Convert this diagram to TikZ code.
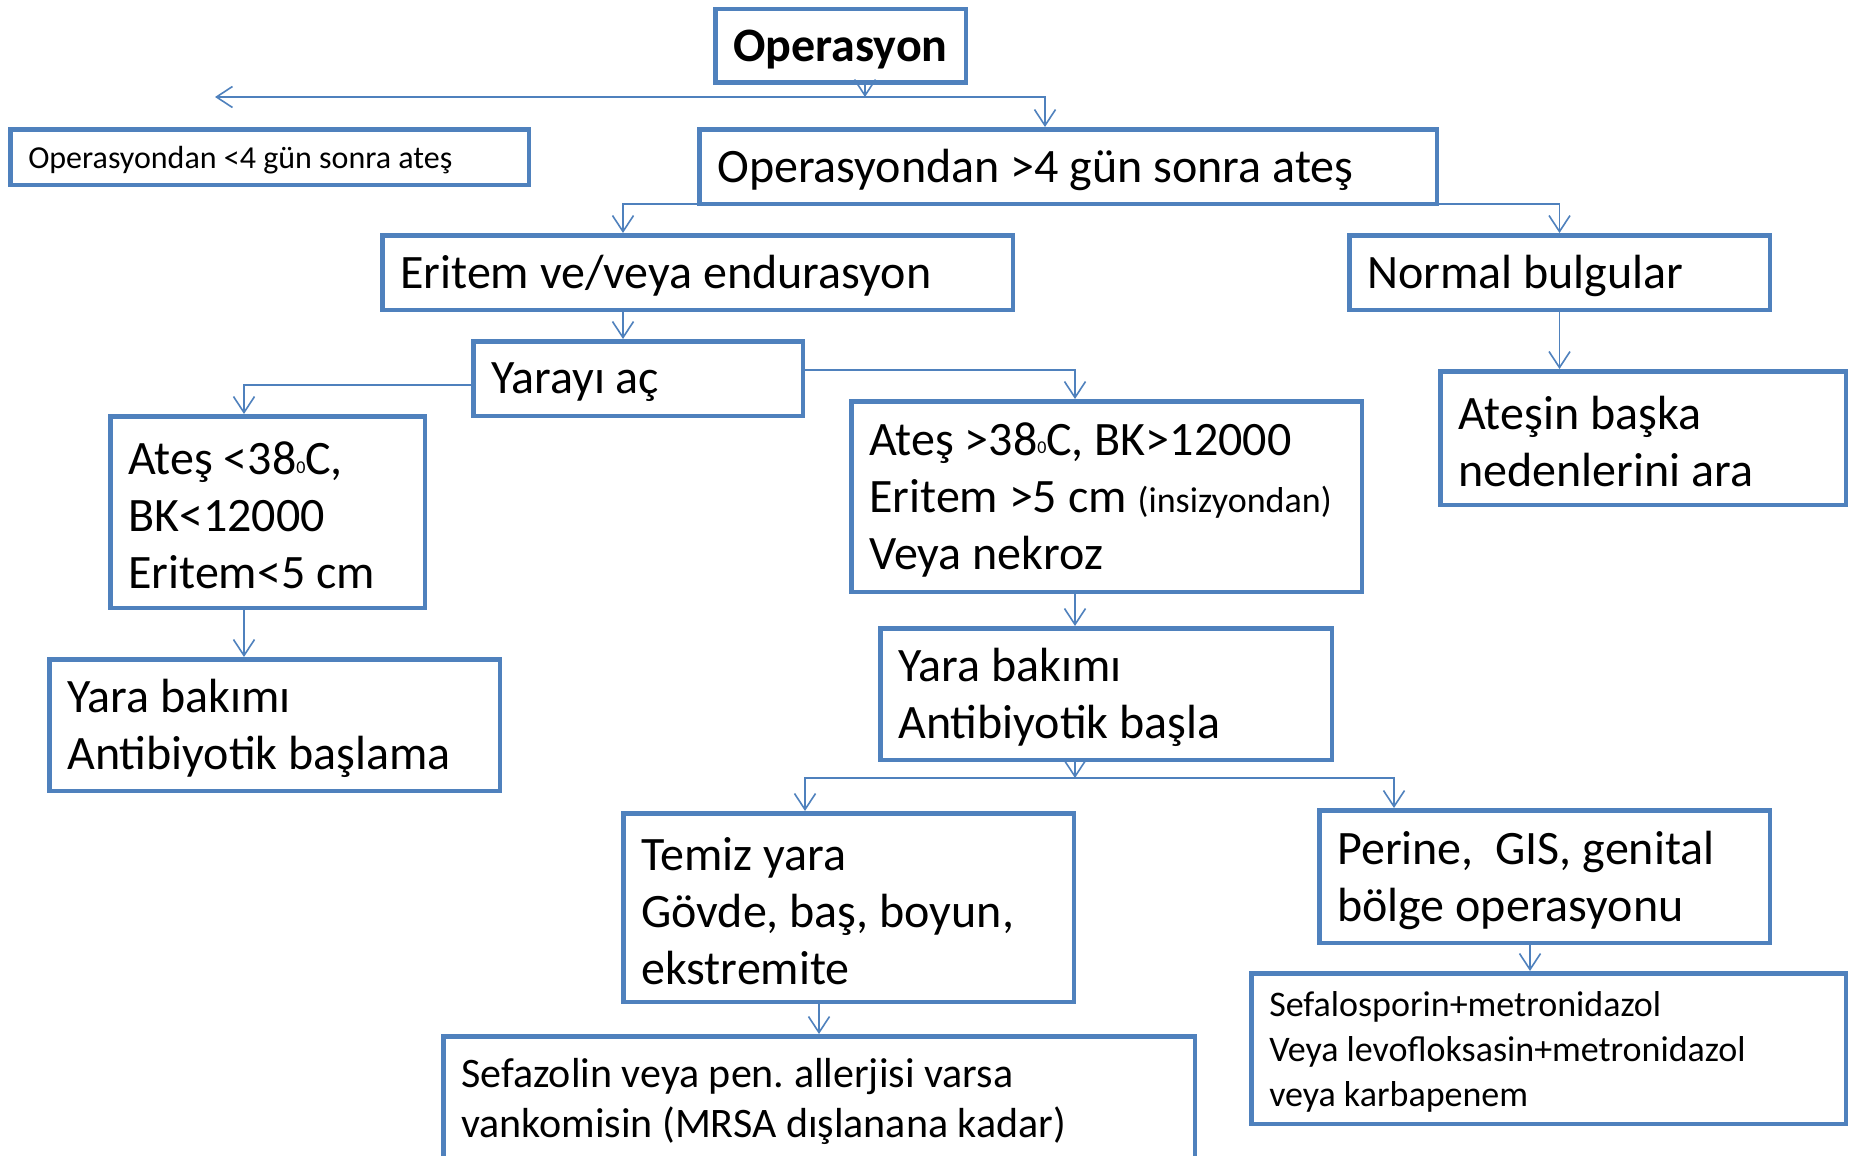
\documentclass[tikz,border=0pt]{standalone}
\usepackage{fontspec}
\setmainfont{Carlito}
\usetikzlibrary{arrows.meta}
\frenchspacing
\definecolor{boxblue}{HTML}{4F81BD}
\newcommand{\derece}{\raisebox{1.7pt}{\fontsize{18}{18}\selectfont 0}}
\tikzset{
  box/.style={draw=boxblue, line width=4.5pt, fill=white, inner xsep=18pt, inner ysep=0pt,
    align=flush left, font=\fontsize{48}{57}\selectfont,
    execute at end node={\par\vspace{-7pt}}},
  arr/.style={draw=boxblue, line width=1.8pt,
    -{Straight Barb[length=16pt,width=21pt,line width=1.6pt]}}
}
\begin{document}
\begin{tikzpicture}[x=1pt,y=-1pt]
  \useasboundingbox[fill=white] (0,0) rectangle (1856,1156);
  \clip (0,0) rectangle (1856,1156);
  % boxes
  \node[box,align=center,font=\fontsize{48}{57}\selectfont\bfseries,minimum width=250.5pt,minimum height=73.5pt,text width=214.5pt] (op) at (840.5,46) {Operasyon};
  \node[box,font=\fontsize{32}{38}\selectfont,minimum width=518.5pt,minimum height=55.5pt,text width=482.5pt] (erken) at (269.5,157) {Operasyondan <4 gün sonra ateş};
  \node[box,minimum width=737.5pt,minimum height=74.5pt,text width=701.5pt] (gec) at (1068,166.5) {Operasyondan >4 gün sonra ateş};
  \node[box,minimum width=630.5pt,minimum height=74.5pt,text width=594.5pt] (eritem) at (697.5,272.5) {Eritem ve/veya endurasyon};
  \node[box,minimum width=420.5pt,minimum height=74.5pt,text width=384.5pt] (normal) at (1559.5,272.5) {Normal bulgular};
  \node[box,minimum width=329.5pt,minimum height=74.5pt,text width=293.5pt] (yara) at (638,378.5) {Yarayı aç};
  \node[box,minimum width=405.5pt,minimum height=133.5pt,text width=369.5pt] (diger) at (1643,438) {Ateşin başka\\nedenlerini ara};
  \node[box,minimum width=314.5pt,minimum height=191.5pt,text width=278.5pt] (hafif) at (267.5,512) {Ateş <38\derece C,\\BK<12000\\Eritem<5 cm};
  \node[box,minimum width=510.5pt,minimum height=190.5pt,text width=474.5pt] (agir) at (1106.5,496.5) {Ateş >38\derece C, BK>12000\\Eritem >5 cm {\fontsize{36}{40}\selectfont (insizyondan)}\\Veya nekroz};
  \node[box,minimum width=450.5pt,minimum height=131.5pt,text width=414.5pt] (bakim1) at (274.5,725) {Yara bakımı\\Antibiyotik başlama};
  \node[box,minimum width=451.5pt,minimum height=131.5pt,text width=415.5pt] (bakim2) at (1106,694) {Yara bakımı\\Antibiyotik başla};
  \node[box,minimum width=450.5pt,minimum height=188.5pt,text width=414.5pt] (temiz) at (848.5,907.5) {Temiz yara\\Gövde, baş, boyun,\\ekstremite};
  \node[box,minimum width=450.5pt,minimum height=132.5pt,text width=414.5pt] (perine) at (1544.5,876.5) {Perine,~ GIS, genital\\bölge operasyonu};
  \node[box,font=\fontsize{42}{50}\selectfont,minimum width=751.5pt,minimum height=123.5pt,text width=715.5pt] (sefazolin) at (819,1098) {Sefazolin veya pen. allerjisi varsa\\vankomisin (MRSA dışlanana kadar)};
  \node[box,font=\fontsize{36}{45}\selectfont,minimum width=594.5pt,minimum height=150.5pt,text width=558.5pt] (sefalo) at (1548.5,1048.5) {Sefalosporin+metronidazol\\Veya levofloksasin+metronidazol\\veya karbapenem};
  % connectors
  \coordinate (jop) at (865,97);
  \coordinate (sol) at (215,97);
  \coordinate (jyb) at (1075,778);
  \draw[arr] (op.south -| jop) -- (jop);
  \draw[arr] (jop) -- (sol);
  \draw[arr] (jop) -| ([xshift=-23pt]gec.north);
  \draw[arr] ([yshift=2pt]gec.south west) -| ([xshift=-74.5pt]eritem.north);
  \draw[arr] ([yshift=2pt]gec.south east) -| (normal.north);
  \draw[arr] ([xshift=-74.5pt]eritem.south) -- ([xshift=-74.5pt]eritem.south |- yara.north);
  \draw[arr] ([yshift=-6.5pt]yara.west) -| ([xshift=-23.5pt]hafif.north);
  \draw[arr] ([yshift=8.5pt]yara.east) -| ([xshift=-31.5pt]agir.north);
  \draw[arr] (normal.south) -- (normal.south |- diger.north);
  \draw[arr] ([xshift=-23.5pt]hafif.south) -- ([xshift=-23.5pt]hafif.south |- bakim1.north);
  \draw[arr] ([xshift=-31.5pt]agir.south) -- ([xshift=-31.5pt]agir.south |- bakim2.north);
  \draw[arr] ([xshift=-31pt]bakim2.south) -- (jyb);
  \draw[arr] (jyb) -| ([xshift=-43.5pt]temiz.north);
  \draw[arr] (jyb) -| ([xshift=-150.5pt]perine.north);
  \draw[arr] ([xshift=-29.5pt]temiz.south) -- ([xshift=-29.5pt]temiz.south |- sefazolin.north);
  \draw[arr] ([xshift=-14.5pt]perine.south) -- ([xshift=-14.5pt]perine.south |- sefalo.north);
\end{tikzpicture}
\end{document}
